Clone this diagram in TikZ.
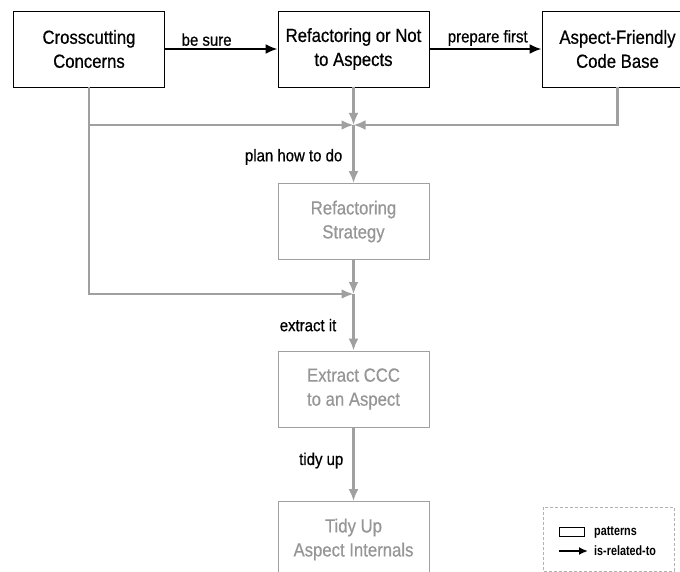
\documentclass[tikz,border=0pt]{standalone}
\usepackage{fontspec}
\setmainfont{Liberation Sans}[FakeStretch=0.88,FakeBold=0.6]
\newfontfamily\legendfont{Liberation Sans}[FakeStretch=0.8]
\usetikzlibrary{arrows.meta}
\definecolor{linegray}{RGB}{160,160,160}
\definecolor{textgray}{RGB}{150,150,150}

\begin{document}
\begin{tikzpicture}[x=1pt,y=-1pt,>={Latex[length=12pt,width=10pt]},
        patbox/.style={draw,line width=0.9pt,minimum width=151pt,minimum height=76pt,align=center,font=\fontsize{19}{24}\selectfont},
        patgray/.style={patbox,draw=linegray,text=textgray},
        rel/.style={->,line width=2.2pt},
        relgray/.style={->,line width=2.4pt,linegray},
        lbl/.style={font=\fontsize{17}{20}\selectfont,text=black,inner sep=2pt}]
                \useasboundingbox (0,0) rectangle (680,572);
                \clip (0,0) rectangle (680,572);

                \node[patbox] (cc) at (89,49) {Crosscutting\\Concerns};
                \node[patbox] (rn) at (353.5,49) {Refactoring or Not\\to Aspects};
                \node[patbox] (af) at (617.5,49) {Aspect-Friendly\\Code Base};
                \node[patgray] (rs) at (353.5,221.5) {Refactoring\\Strategy};
                \node[patgray] (ex) at (353.5,389) {Extract CCC\\to an Aspect};
                \node[patgray] (ti) at (353.5,539.5) {Tidy Up\\Aspect Internals};

                \coordinate (j1) at (353.5,125);
                \coordinate (j2) at (353.5,294);

                \draw[rel] (cc) -- node[lbl,above,pos=0.37] {be sure} (rn);
                \draw[rel] (rn) -- node[lbl,above,pos=0.52] {prepare first} (af);

                \draw[relgray] (rn) -- (j1);
                \draw[relgray] (af.south) |- (j1);
                \draw[relgray] (cc.south |- j1) -- (j1);
                \draw[relgray] (cc.south) -- (cc.south |- j2) -- (j2);
                \draw[relgray] (j1) -- node[lbl,left,inner sep=10pt,pos=0.55] {plan how to do} (rs);
                \draw[relgray] (rs) -- (j2);
                \draw[relgray] (j2) -- node[lbl,left,inner sep=16pt,pos=0.55] {extract it} (ex);
                \draw[relgray] (ex) -- node[lbl,left,inner sep=9pt,pos=0.45] {tidy up} (ti);

                \draw[densely dashed,gray!60] (543,507) rectangle (674,571);
                \node[draw,line width=1pt,minimum width=25pt,minimum height=9pt,inner sep=0pt] (lp) at (571.5,531.5) {};
                \node[right,inner sep=0pt,font=\legendfont\fontsize{13.5}{15}\bfseries] (lpt) at (594,532) {patterns};
                \coordinate (la) at (559,551);
                \node[right,inner sep=0pt,font=\legendfont\fontsize{13.5}{15}\bfseries] (lrt) at (594,551) {is-related-to};
                \draw[->,line width=2.2pt,>={Latex[length=9pt,width=8pt]}] (la) -- ([xshift=-6pt]lrt.west);
            \end{tikzpicture}
\end{document}
